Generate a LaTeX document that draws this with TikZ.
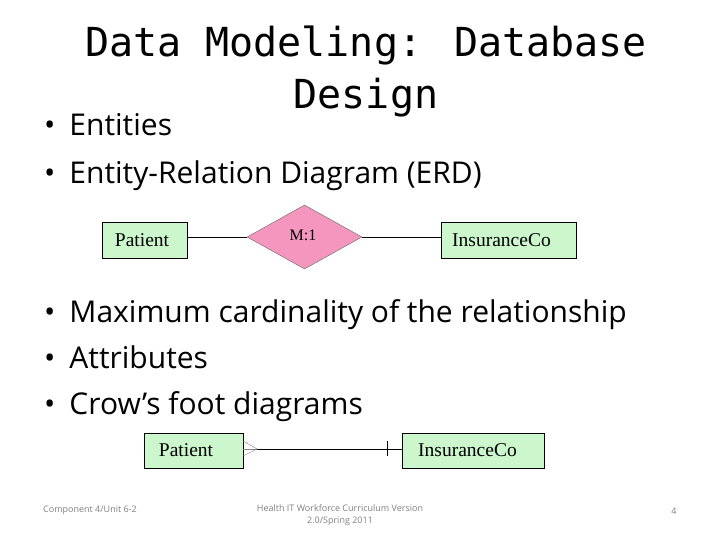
\documentclass[tikz,border=0pt]{standalone}
\usepackage{fontspec}
\usepackage{tikz}
\usetikzlibrary{shapes.geometric}
\setmainfont{Open Sans}
\newfontfamily\titlefont{DejaVu Sans Mono}
\newfontfamily\erdfont{Liberation Serif}
\definecolor{entitygreen}{HTML}{CCF7CC}
\definecolor{relationpink}{HTML}{F496BE}
\tikzset{
  entity/.style={draw=black,fill=entitygreen,line width=0.8pt,inner sep=0pt,font=\erdfont\fontsize{19.5}{19.5}\selectfont},
  relation/.style={diamond,draw=black!60,fill=relationpink,aspect=1.8,inner sep=0pt,font=\erdfont\fontsize{16}{16}\selectfont},
  bullet/.style={anchor=base west,inner sep=0pt,font=\fontsize{30}{30}\selectfont},
  footer/.style={gray,inner sep=0pt,font=\fontsize{9}{12.5}\selectfont}
}
\begin{document}
\begin{tikzpicture}[x=1pt,y=-1pt]
  \useasboundingbox (0,0) rectangle (720,540);
  \node[inner sep=0pt,align=center,font=\titlefont\fontsize{40}{52}\selectfont] (title) at (366,71) {Data Modeling: Database\\Design};
  \node[bullet] (b1) at (44,136) {\textbullet\hspace{14pt}Entities};
  \node[bullet] (b2) at (44,184) {\textbullet\hspace{14pt}Entity-Relation Diagram (ERD)};
  \node[bullet] (b3) at (44,322) {\textbullet\hspace{14pt}Maximum cardinality of the relationship};
  \node[bullet] (b4) at (44,368) {\textbullet\hspace{14pt}Attributes};
  \node[bullet] (b5) at (44,414) {\textbullet\hspace{14pt}Crow’s foot diagrams};
  % top diagram
  \node[entity,minimum width=85pt,minimum height=36pt] (patient) at (144.5,240) {Patient\kern5pt};
  \node[relation,minimum width=115pt,minimum height=64pt] (rel) at (304.5,237) {\raisebox{4pt}{M:1}\kern3pt};
  \node[entity,minimum width=135pt,minimum height=36pt] (insurance) at (508.5,240) {InsuranceCo\kern14pt};
  \draw (patient.east|-rel) -- (rel);
  \draw (rel) -- (insurance.west|-rel);
  % crow's foot diagram
  \node[entity,minimum width=99pt,minimum height=35pt] (patient2) at (193.5,450.5) {Patient\kern15pt};
  \node[entity,minimum width=142pt,minimum height=35pt] (insurance2) at (473,450.5) {InsuranceCo\kern11pt};
  \coordinate (foot) at (257,449);
  \coordinate (tick1) at (387,441);
  \coordinate (tick2) at (387,456);
  \coordinate (toe1) at (243,441);
  \coordinate (toe2) at (243,456);
  \coordinate (toe3) at (243,449);
  \draw[line width=0.8pt] (foot) -- (insurance2.west|-foot);
  \draw[gray] (toe1) -- (foot) -- (toe2);
  \draw[gray] (toe3) -- (foot);
  \draw[line width=0.8pt] (tick1) -- (tick2);
  % footer
  \node[footer,anchor=west] (unit) at (43,510) {Component 4/Unit 6-2};
  \node[footer,align=center] (course) at (340,515) {Health IT Workforce Curriculum Version\\2.0/Spring 2011};
  \node[footer] (page) at (674,511) {4};
\end{tikzpicture}
\end{document}
